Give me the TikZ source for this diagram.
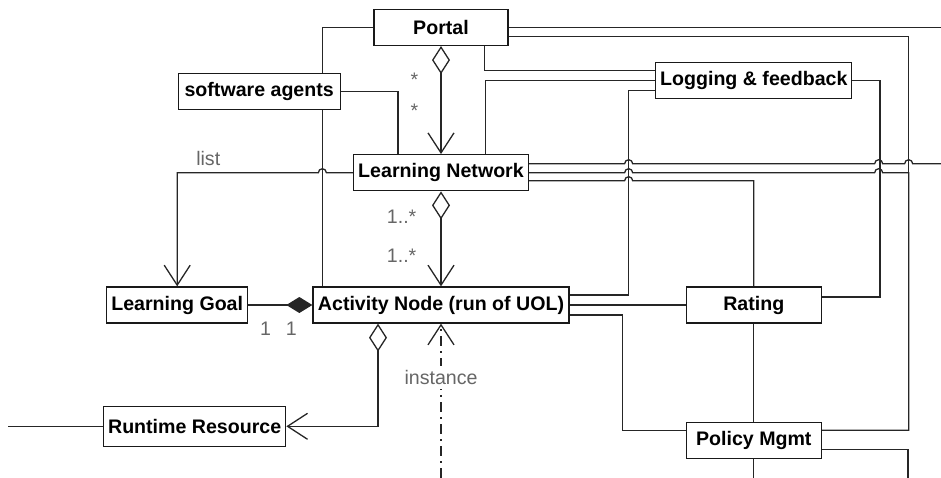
\documentclass[tikz,border=0pt]{standalone}
\usepackage{fontspec}
\setmainfont{Liberation Sans}
\usetikzlibrary{positioning}
\usetikzlibrary{arrows.meta}
\pgfdeclarelayer{bg}
\pgfsetlayers{bg,main}

\begin{document}
\begin{tikzpicture}
		[x=0.5pt, y=-0.5pt,
		umlclass/.style={draw=black!90, line width=0.65pt, fill=white, inner sep=2pt, minimum height=18pt, font=\fontsize{9.8}{11}\selectfont\bfseries},
		lbl/.style={font=\fontsize{9.8}{11}\selectfont, text=black!60, inner sep=2pt},
		conn/.style={draw=black!85, line width=0.65pt},
		agg/.style={conn, {Diamond[open, length=14pt, width=9pt]}-{Straight Barb[length=10pt, width=13pt]}},
		comp/.style={conn, -{Diamond[length=13pt, width=8pt]}},
		nav/.style={conn, -{Straight Barb[length=10pt, width=13pt]}},
		inst/.style={conn, dash pattern=on 5pt off 2.5pt on 1pt off 2.5pt, -{Straight Barb[length=10pt, width=13pt]}}]
		\useasboundingbox (0,0) rectangle (941,477);
		\node[umlclass, minimum width=128pt] (an) at (441,305) {Activity Node (run of UOL)};
		\node[umlclass, minimum width=87.5pt, above=47.5pt of an] (ln) {Learning Network};
		\node[umlclass, minimum width=67pt, above=54pt of ln] (portal) {Portal};
		\node[umlclass, minimum width=81pt, above left=22pt and 6pt of ln] (sa) {software agents};
		\node[umlclass, minimum width=70.5pt, left=32pt of an] (lg) {Learning Goal};
		\node[umlclass, minimum width=91pt, minimum height=20pt, below left=41pt and 13pt of an] (rr) {Runtime Resource};
		\node[umlclass, minimum width=67.5pt, right=58pt of an] (rating) {Rating};
		\node[umlclass, minimum width=67.5pt, below=49pt of rating] (policy) {Policy Mgmt};
		\node[umlclass, minimum width=98pt, above=93.5pt of rating] (logging) {Logging \& feedback};
		\coordinate[left=47.5pt of rr.west] (rrout);
		\coordinate[below=77pt of an.south] (instbot);
		\coordinate[right=216.5pt of portal.east] (portalout);
		\coordinate[above right=4.5pt and 206.25pt of ln.east] (lnout);
		\coordinate[below=10pt of policy.south] (polout1);
		\coordinate[below right=19pt and 43pt of policy.east] (polout2);

		\begin{pgfonlayer}{bg}
		\draw[agg] (portal.south) -- node[lbl, left=9pt, pos=0.31] (m1) {*} node[lbl, left=9pt, pos=0.6] (m2) {*} (ln.north);
		\draw[agg] (ln.south) -- node[lbl, left=10pt, pos=0.27] (m3) {1..*} node[lbl, left=10pt, pos=0.68] (m4) {1..*} (an.north);
		\draw[comp] (lg.east) -- node[lbl, below=6pt, pos=0.27] (m5) {1} node[lbl, below=6pt, pos=0.67] (m6) {1} (an.west);
		\draw[agg] ([xshift=-31.5pt]an.south) |- (rr.east);
		\draw[inst] (instbot) -- node[lbl, fill=white, pos=0.65] (instlbl) {instance} (an.south);
		\draw[conn] (rr.west) -- (rrout);
		\draw[nav] (ln.west) -- ++(-13.25pt,0) arc[start angle=0, end angle=180, radius=2pt] -| node[lbl, above=1pt, pos=0.39] (listlbl) {list} (lg.north);

		\draw[conn] (portal.west) -| ([xshift=5pt]an.north west);
		\draw[conn] (sa.east) -| ([xshift=22.5pt]ln.north west);
		\draw[conn] ([xshift=-12pt]portal.south east) |- ([yshift=5pt]logging.west);
		\draw[conn] ([xshift=-22pt]ln.north east) |- (logging.west);
		\draw[conn] ([yshift=5pt]an.east) -- ++(29.5pt,0) |- ([yshift=-5pt]logging.west);
		\draw[conn] ([yshift=4pt]rating.east) -- ++(29pt,0) |- (logging.east);
		\draw[conn] (portal.east) -- (portalout);
		\draw[conn] ([yshift=-4.5pt]portal.east) -- ++(200pt,0) |- ([yshift=5pt]policy.east);

		\draw[conn] ([yshift=4.5pt]ln.east) -- ++(47.75pt,0) arc[start angle=180, end angle=0, radius=2pt]
			-- ++(121pt,0) arc[start angle=180, end angle=0, radius=2pt]
			-- ++(11pt,0) arc[start angle=180, end angle=0, radius=2pt] -- (lnout);
		\draw[conn] (ln.east) -- ++(47.75pt,0) arc[start angle=180, end angle=0, radius=2pt]
			-- ++(121pt,0) arc[start angle=180, end angle=0, radius=2pt]
			-- ++(13pt,0) |- ([yshift=5pt]policy.east);
		\draw[conn] ([yshift=-4pt]ln.east) -- ++(47.75pt,0) arc[start angle=180, end angle=0, radius=2pt] -| (rating.north);

		\draw[conn] (an.east) -- (rating.west);
		\draw[conn] ([yshift=-5pt]an.east) -- ++(26.5pt,0) |- ([yshift=5pt]policy.west);
		\draw[conn] (rating.south) -- (policy.north);
		\draw[conn] (policy.south) -- (polout1);
		\draw[conn] ([yshift=-4.5pt]policy.east) -| (polout2);
		\end{pgfonlayer}
	\end{tikzpicture}
\end{document}
